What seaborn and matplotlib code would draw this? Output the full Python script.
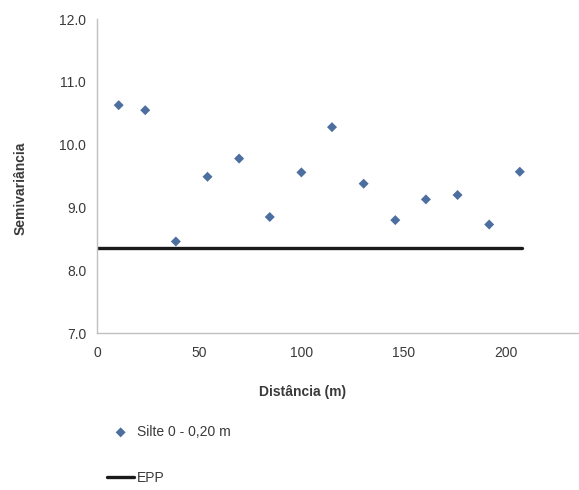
import numpy as np
import pandas as pd
import matplotlib
matplotlib.use("Agg")
import matplotlib.pyplot as plt
import seaborn as sns

# semivariogram points
distancia = [10.5, 23.5, 38.5, 54, 69.5, 84.5, 100, 115, 130.5, 146, 161, 176.5, 192, 207]
semivar = [10.63, 10.55, 8.46, 9.49, 9.78, 8.85, 9.56, 10.28, 9.38, 8.80, 9.13, 9.20, 8.73, 9.57]
epp_x = [0, 208]
epp_y = [8.35, 8.35]
x_ticks = [0, 50, 100, 150, 200]
y_ticks = [7.0, 8.0, 9.0, 10.0, 11.0, 12.0]

df = pd.DataFrame({"dist": distancia, "gamma": semivar})
df_epp = pd.DataFrame({"dist": epp_x, "gamma": epp_y})

sns.set_style("white")
plt.rcParams["font.family"] = ["Liberation Sans", "DejaVu Sans"]

fig = plt.figure(figsize=(5.79, 4.9), dpi=100, facecolor="white")
ax = fig.add_axes([0.168, 0.32, 0.832, 0.641])

txt = "#3a3a3a"
fs = 10
sns.scatterplot(data=df, x="dist", y="gamma", marker="D", s=26, color="#4d6fa0",
                edgecolor="none", ax=ax, label="Silte 0 - 0,20 m", zorder=3)
sns.lineplot(data=df_epp, x="dist", y="gamma", color="#1a1a1a", linewidth=2.4,
             ax=ax, label="EPP", zorder=2)

ax.set_xlim(0, 236)
ax.set_ylim(7, 12)
ax.set_xticks(x_ticks)
ax.set_yticks(y_ticks)
ax.set_yticklabels([f"{v:.1f}" for v in y_ticks])
ax.tick_params(axis="both", labelsize=fs, colors="#bbbbbb", labelcolor=txt,
               length=4, width=0.8, direction="out")
ax.tick_params(axis="x", pad=5)
ax.tick_params(axis="y", pad=4)

for s in ["top", "right"]:
    ax.spines[s].set_visible(False)
for s in ["left", "bottom"]:
    ax.spines[s].set_color("#c0c0c0")
    ax.spines[s].set_linewidth(1.0)

ax.set_xlabel("Distância (m)", fontsize=fs, fontweight="bold", color=txt)
ax.set_ylabel("Semivariância", fontsize=fs, fontweight="bold", color=txt)
ax.xaxis.set_label_coords(0.427, -0.165)
ax.yaxis.set_label_coords(-0.145, 0.46)

handles, labels = ax.get_legend_handles_labels()
ax.legend_.remove()
fig.legend(handles, labels, loc="upper left", bbox_to_anchor=(0.176, 0.144),
           frameon=False, fontsize=fs, labelcolor=txt, handlelength=1.9,
           handletextpad=0.25, labelspacing=2.3, borderaxespad=0)

fig.savefig("out.png", dpi=100, facecolor="white")
